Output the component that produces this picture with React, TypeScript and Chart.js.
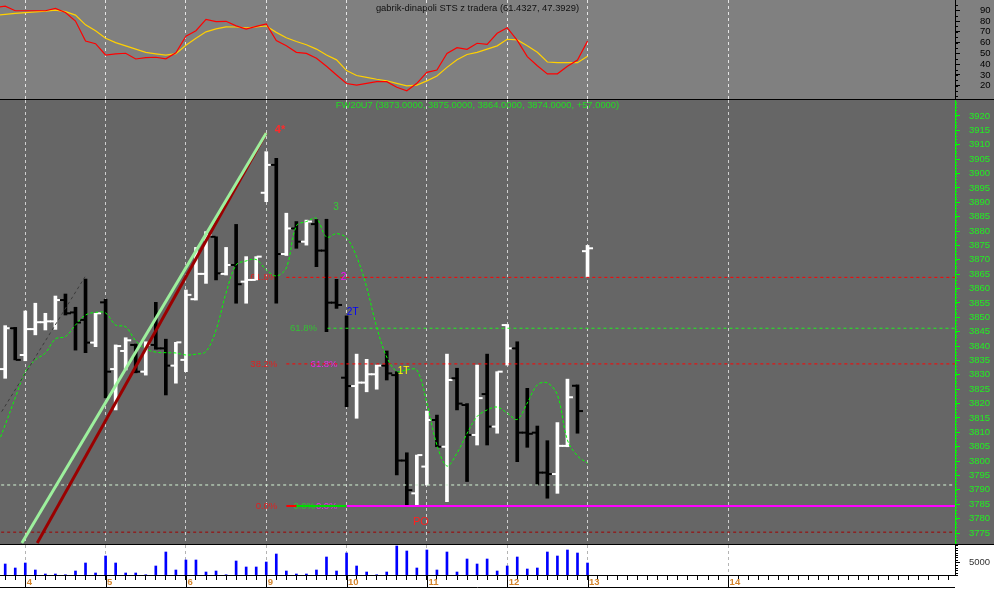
import React, { useEffect, useRef } from 'react';
import { Chart, registerables } from 'chart.js';

Chart.register(...registerables);

const FONT = "'Liberation Sans', Arial, Helvetica, sans-serif";

/* ---------------- data ---------------- */
// bar index of the first hourly bar of each day, and the day label
const DAY_IDX = [2, 10, 18, 26, 34, 42, 50, 58, 72];
const DAY_LABELS = ['4', '5', '6', '9', '10', '11', '12', '13', '14'];

const OPEN = [
  3832.0, 3846.2, 3836.9, 3845.9, 3848.3, 3848.6, 3856.0, 3851.7, 3849.1, 3841.2,
  3855.2, 3832.0, 3838.3, 3840.4, 3831.1, 3840.4, 3839.2, 3833.2, 3835.2, 3856.3,
  3865.1, 3878.0, 3865.1, 3868.2, 3862.4, 3863.0, 3893.3, 3903.0, 3872.0, 3880.9,
  3876.3, 3882.4, 3873.2, 3855.1, 3829.0, 3826.1, 3827.3, 3830.2, 3833.2, 3829.9,
  3800.2, 3788.8, 3798.1, 3814.3, 3805.0, 3828.8, 3819.5, 3809.1, 3823.3, 3812.0,
  3847.3, 3839.2, 3809.9, 3809.9, 3796.0, 3795.5, 3805.3, 3826.2, 3873.0,
];
const HIGH = [
  3847.1, 3846.5, 3852.2, 3854.9, 3851.4, 3857.4, 3858.1, 3853.5, 3863.3, 3851.4,
  3856.3, 3840.4, 3842.9, 3840.7, 3841.5, 3855.2, 3842.4, 3841.3, 3859.5, 3874.3,
  3879.8, 3878.0, 3874.3, 3882.3, 3871.1, 3871.1, 3907.6, 3905.3, 3886.2, 3883.3,
  3883.8, 3884.0, 3884.1, 3863.2, 3850.5, 3837.2, 3835.4, 3833.4, 3838.3, 3831.1,
  3802.9, 3802.1, 3817.4, 3816.0, 3837.2, 3832.3, 3820.0, 3833.4, 3837.2, 3831.1,
  3847.5, 3841.5, 3825.3, 3812.2, 3807.1, 3813.4, 3828.5, 3826.5, 3875.0,
];
const LOW = [
  3828.8, 3835.2, 3834.9, 3843.9, 3845.6, 3845.8, 3850.8, 3838.6, 3837.7, 3839.8,
  3822.0, 3817.8, 3831.7, 3830.7, 3829.9, 3838.9, 3823.0, 3827.1, 3831.1, 3856.0,
  3861.8, 3863.0, 3864.7, 3854.9, 3854.9, 3863.0, 3890.2, 3854.9, 3871.5, 3874.0,
  3875.1, 3867.6, 3845.0, 3853.1, 3818.9, 3814.9, 3824.1, 3825.0, 3828.2, 3795.2,
  3784.4, 3784.7, 3791.7, 3805.0, 3785.9, 3817.8, 3792.9, 3805.6, 3805.6, 3809.7,
  3833.4, 3799.8, 3804.8, 3791.7, 3787.1, 3788.8, 3805.0, 3809.7, 3864.0,
];
const CLOSE = [
  3846.2, 3835.2, 3845.9, 3848.3, 3848.6, 3856.0, 3851.4, 3848.2, 3841.2, 3851.4,
  3831.1, 3840.0, 3842.0, 3831.1, 3840.4, 3839.2, 3833.2, 3841.3, 3857.8, 3865.1,
  3878.6, 3865.3, 3868.2, 3861.5, 3863.0, 3871.1, 3903.0, 3872.0, 3880.9, 3876.3,
  3883.3, 3873.2, 3855.1, 3854.3, 3826.1, 3827.3, 3830.2, 3833.2, 3830.5, 3800.2,
  3789.9, 3802.1, 3814.3, 3805.0, 3828.2, 3820.0, 3809.1, 3821.9, 3812.0, 3831.1,
  3839.2, 3809.9, 3809.5, 3796.0, 3795.5, 3805.3, 3822.2, 3817.4, 3874.0,
];
const VOLUME = [
  4400, 2800, 4800, 2000, 400, 400, 100, 1600, 4800, 800,
  7600, 4800, 800, 800, 100, 3600, 9200, 2000, 6000, 6000,
  1200, 1600, 100, 5600, 3200, 3200, 5200, 8400, 1600, 400,
  400, 2000, 7200, 1600, 8800, 3600, 1200, 100, 1200, 11600,
  9600, 2800, 10000, 2000, 9200, 1200, 6400, 4400, 6400, 1600,
  3600, 7200, 2400, 2800, 9200, 7600, 10000, 8800, 4800,
];

// displaced moving average, first value belongs to bar -1
const MA_FIRST = -1;
const MA = [
  3803.5, 3812.6, 3822.0, 3831.0, 3835.2, 3837.6, 3842.5, 3843.3, 3847.3, 3850.8, 3851.7,
  3851.5, 3847.3, 3846.7, 3841.8, 3839.0, 3837.9, 3837.7, 3837.6, 3836.9, 3837.2,
  3838.1, 3845.6, 3858.5, 3868.2, 3869.6, 3870.1, 3866.5, 3864.4, 3867.2, 3881.8,
  3883.3, 3884.4, 3877.9, 3879.1, 3877.6, 3871.1, 3860.5, 3846.6, 3836.2, 3831.2,
  3831.7, 3831.7, 3820.2, 3805.6, 3798.3, 3802.8, 3809.6, 3815.5, 3817.8, 3818.8,
  3816.7, 3814.5, 3820.2, 3826.5, 3827.2, 3823.0, 3807.3, 3801.8, 3799.3,
];

// STS oscillator, first value belongs to bar -1
const STS_FIRST = -1;
const STS_FAST = [
  92.5, 93.8, 89.6, 89.6, 89.6, 89.6, 91.8, 88.0, 80.0, 61.5, 59.0,
  48.5, 49.6, 50.1, 44.8, 46.0, 46.4, 45.0, 50.6, 66.0, 71.0,
  81.6, 79.5, 79.8, 75.5, 72.6, 75.0, 77.3, 62.0, 57.0, 51.0,
  50.0, 45.5, 38.0, 30.0, 22.0, 20.6, 22.2, 23.7, 23.7, 18.5,
  15.3, 22.2, 32.4, 34.6, 50.0, 55.3, 53.8, 59.4, 58.4, 68.6,
  73.8, 62.0, 47.0, 38.5, 31.0, 31.0, 38.0, 43.9, 61.4,
];
const STS_SLOW = [
  85.5, 86.2, 87.1, 87.8, 88.6, 89.3, 90.2, 88.8, 85.5, 76.5, 71.0,
  64.0, 60.0, 57.0, 54.0, 51.0, 49.6, 48.4, 49.8, 57.5, 64.0,
  70.0, 72.8, 74.6, 74.5, 73.8, 74.5, 75.4, 69.5, 64.5, 61.0,
  58.0, 54.0, 48.5, 44.0, 34.0, 29.5, 27.7, 26.0, 24.6, 22.2,
  19.9, 20.6, 24.5, 29.0, 37.0, 44.0, 49.0, 51.0, 54.0, 57.0,
  63.1, 62.5, 57.0, 51.0, 42.0, 41.4, 41.4, 41.4, 47.4,
];

// axis ticks
const MAIN_Y_TICKS = [
  3775, 3780, 3785, 3790, 3795, 3800, 3805, 3810, 3815, 3820, 3825, 3830, 3835, 3840, 3845,
  3850, 3855, 3860, 3865, 3870, 3875, 3880, 3885, 3890, 3895, 3900, 3905, 3910, 3915, 3920,
];
const STS_Y_TICKS = [20, 30, 40, 50, 60, 70, 80, 90];
const VOL_Y_TICKS = [5000];

// horizontal levels: price and the bar index where each begins
const LEVEL_PRICE = [3863.9, 3846.2, 3833.8, 3784.4, 3784.4, 3784.4, 3791.7, 3775.3];
const LEVEL_FROM = [28, 32.1, 28, 28, 29, 34, -1, -1];

// trend lines (bar index, price)
const TREND_GRAY_X = [-0.35, 7.95];
const TREND_GRAY_Y = [3817.2, 3864.1];
const TREND_RED_X = [3.19, 26];
const TREND_RED_Y = [3771.5, 3914.1];
const TREND_GREEN_X = [1.66, 26];
const TREND_GREEN_Y = [3771.5, 3914.1];

// text marks (bar index, price)
const FIB_TEXT = ['61.8%', '61.8%', '38.2%', '61.8%', '0.0%', '0.0%', '0.0%'];
const FIB_TEXT_X = [27.1, 31.05, 27.1, 33.1, 27.1, 30.86, 33.1];
const FIB_TEXT_Y = [3863.9, 3846.2, 3833.8, 3833.8, 3784.4, 3784.4, 3784.4];
const NOTE_TEXT = ['4*', '3', '2', '2T', '1T', 'PO'];
const NOTE_X = [27.37, 32.95, 33.7, 34.61, 39.67, 41.41];
const NOTE_Y = [3915.1, 3888.1, 3864.1, 3851.9, 3831.2, 3778.7];

const MAIN_TITLE = 'FW20U7 (3873.0000, 3875.0000, 3864.0000, 3874.0000, +57.0000)';
const STS_TITLE = 'gabrik-dinapoli STS z tradera (61.4327, 47.3929)';

/* ---------------- view settings ---------------- */
const W = 994;
const AXIS_W = 39;
const X_MIN = -0.518;
const X_MAX = 94.6;
const MAIN_Y_MIN = 3771.18;
const MAIN_Y_MAX = 3925.56;
const STS_Y_MIN = 7.65;
const STS_Y_MAX = 99.56;
const VOL_MAX = 12000;
const TICK_OFF = 0.3;

const LEVEL_STYLE = [
  { color: '#ff0000', width: 1, dash: [3, 3], order: 7 },
  { color: '#22ee22', width: 1, dash: [3, 3], order: 7 },
  { color: '#ff0000', width: 1, dash: [3, 3], order: 7 },
  { color: '#ff0000', width: 2, dash: [], order: 8 },
  { color: '#00dd00', width: 2, dash: [], order: 7.5 },
  { color: '#ff00ff', width: 2, dash: [], order: 7 },
  { color: '#d4f4d4', width: 1, dash: [3, 3], order: 7 },
  { color: '#a00000', width: 1, dash: [3, 3], order: 7 },
];
const FIB_TEXT_COLOR = ['#e02020', '#33c033', '#e02020', '#ee22ee', '#e02020', '#33c033', '#ee22ee'];
const NOTE_COLOR = ['#ff2a2a', '#33cc33', '#ff00ff', '#0000ff', '#ffff00', '#ff2020'];
const NOTE_FONT = ['bold 11px', '10px', '10px', '10px', '10px', '11px'];

const noInteraction = {
  responsive: false,
  animation: false as const,
  devicePixelRatio: 1,
  events: [] as any[],
  layout: { padding: 0, autoPadding: false },
  plugins: { legend: { display: false }, tooltip: { enabled: false }, title: { display: false } },
};

function dayGridX(color: string) {
  return {
    type: 'linear' as const,
    min: X_MIN,
    max: X_MAX,
    offset: false,
    position: 'bottom' as const,
    afterBuildTicks: (s: any) => {
      s.ticks = DAY_IDX.map((v) => ({ value: v }));
    },
    ticks: { display: false },
    grid: { color, lineWidth: 1, drawTicks: false, offset: false },
    border: { display: false, dash: [3, 3] },
    afterFit: (s: any) => {
      s.height = 0;
      s.paddingLeft = 0;
      s.paddingRight = 0;
    },
  };
}

function rightY(min: number, max: number, ticks: number[], color: string, borderColor: string, padding: number) {
  return {
    type: 'linear' as const,
    position: 'right' as const,
    min,
    max,
    beginAtZero: false,
    afterBuildTicks: (s: any) => {
      s.ticks = ticks.map((v) => ({ value: v }));
    },
    ticks: {
      color,
      padding,
      autoSkip: false,
      font: { family: FONT, size: 9.5 },
      callback: (v: any) => String(v),
    },
    grid: { drawOnChartArea: false, drawTicks: true, tickLength: 5, tickColor: borderColor, tickWidth: 1 },
    border: { display: true, color: borderColor, width: 1 },
    afterFit: (s: any) => {
      s.width = AXIS_W;
      s.paddingTop = 0;
      s.paddingBottom = 0;
    },
  };
}

function minorTicks(id: string, step: number, len: number, color: string) {
  return {
    id,
    afterDraw(chart: any) {
      const s = chart.scales.y;
      const ctx = chart.ctx;
      ctx.save();
      ctx.strokeStyle = color;
      ctx.lineWidth = 1;
      ctx.beginPath();
      for (let v = Math.ceil(s.min / step) * step; v <= s.max; v += step) {
        const y = Math.round(s.getPixelForValue(v)) + 0.5;
        ctx.moveTo(s.left, y);
        ctx.lineTo(s.left + len, y);
      }
      ctx.stroke();
      ctx.restore();
    },
  };
}

function titlePlugin(id: string, text: string, color: string, y: number) {
  return {
    id,
    afterDraw(chart: any) {
      const { ctx, chartArea } = chart;
      ctx.save();
      ctx.font = `9.4px ${FONT}`;
      ctx.fillStyle = color;
      ctx.textAlign = 'center';
      ctx.textBaseline = 'middle';
      ctx.fillText(text, (chartArea.left + chartArea.right) / 2, y);
      ctx.restore();
    },
  };
}

const pts = (xs: number[], ys: number[]) => xs.map((x, k) => ({ x, y: ys[k] }));

export default function App() {
  const topRef = useRef<HTMLCanvasElement>(null);
  const mainRef = useRef<HTMLCanvasElement>(null);
  const volRef = useRef<HTMLCanvasElement>(null);

  useEffect(() => {
    Chart.defaults.font.family = FONT;
    const charts: Chart[] = [];

    /* ---------- STS oscillator ---------- */
    charts.push(
      new Chart(topRef.current as HTMLCanvasElement, {
        type: 'line',
        data: {
          datasets: [
            {
              data: STS_SLOW.map((v, k) => ({ x: k + STS_FIRST, y: v })),
              borderColor: '#ffd000',
              borderWidth: 1.2,
              pointRadius: 0,
              order: 2,
            },
            {
              data: STS_FAST.map((v, k) => ({ x: k + STS_FIRST, y: v })),
              borderColor: '#ff0000',
              borderWidth: 1.2,
              pointRadius: 0,
              order: 1,
            },
          ],
        },
        options: {
          ...noInteraction,
          scales: {
            x: dayGridX('#e4e4e4') as any,
            y: rightY(STS_Y_MIN, STS_Y_MAX, STS_Y_TICKS, '#000000', '#000000', 20) as any,
          },
        } as any,
        plugins: [minorTicks('stsMinor', 5, 3, '#000000'), titlePlugin('stsTitle', STS_TITLE, '#111111', 8)],
      })
    );

    /* ---------- price panel ---------- */
    const barColors = CLOSE.map((c, k) => (c >= (k ? CLOSE[k - 1] : OPEN[k]) ? '#ffffff' : '#000000'));

    const textPlugin = {
      id: 'priceText',
      beforeDatasetsDraw(chart: any) {
        const { ctx, scales } = chart;
        ctx.save();
        ctx.font = `9.5px ${FONT}`;
        ctx.textAlign = 'right';
        ctx.textBaseline = 'middle';
        FIB_TEXT.forEach((t, k) => {
          ctx.fillStyle = FIB_TEXT_COLOR[k];
          ctx.fillText(t, scales.x.getPixelForValue(FIB_TEXT_X[k]), scales.y.getPixelForValue(FIB_TEXT_Y[k]));
        });
        ctx.restore();
      },
      afterDatasetsDraw(chart: any) {
        const { ctx, scales } = chart;
        ctx.save();
        ctx.textAlign = 'center';
        ctx.textBaseline = 'middle';
        NOTE_TEXT.forEach((t, k) => {
          ctx.font = `${NOTE_FONT[k]} ${FONT}`;
          ctx.fillStyle = NOTE_COLOR[k];
          ctx.fillText(t, scales.x.getPixelForValue(NOTE_X[k]), scales.y.getPixelForValue(NOTE_Y[k]));
        });
        ctx.restore();
      },
    };

    const levelSets = LEVEL_PRICE.map((p, k) => ({
      type: 'line',
      data: [
        { x: LEVEL_FROM[k], y: p },
        { x: X_MAX, y: p },
      ],
      borderColor: LEVEL_STYLE[k].color,
      borderWidth: LEVEL_STYLE[k].width,
      borderDash: LEVEL_STYLE[k].dash,
      pointRadius: 0,
      order: LEVEL_STYLE[k].order,
    }));

    charts.push(
      new Chart(mainRef.current as HTMLCanvasElement, {
        type: 'bar',
        data: {
          datasets: [
            {
              type: 'bar',
              data: LOW.map((l, k) => ({ x: k, y: [l, HIGH[k]] })),
              backgroundColor: barColors,
              borderWidth: 0,
              barThickness: 3,
              order: 10,
            },
            {
              type: 'line',
              data: OPEN.map((o, k) => ({ x: k - TICK_OFF, y: o })),
              showLine: false,
              pointStyle: 'line',
              pointRadius: 2.5,
              pointBorderWidth: 2,
              pointBorderColor: barColors,
              order: 9,
            },
            {
              type: 'line',
              data: CLOSE.map((c, k) => ({ x: k + TICK_OFF, y: c })),
              showLine: false,
              pointStyle: 'line',
              pointRadius: 2.5,
              pointBorderWidth: 2,
              pointBorderColor: barColors,
              order: 9,
            },
            ...levelSets,
            {
              type: 'line',
              data: MA.map((v, k) => ({ x: k + MA_FIRST, y: v })),
              borderColor: '#00ff00',
              borderWidth: 1,
              borderDash: [3, 2],
              tension: 0.35,
              pointRadius: 0,
              order: 5,
            },
            {
              type: 'line',
              data: pts(TREND_GRAY_X, TREND_GRAY_Y),
              borderColor: '#3a3a3a',
              borderWidth: 1,
              borderDash: [3, 3],
              pointRadius: 0,
              order: 4,
            },
            {
              type: 'line',
              data: pts(TREND_RED_X, TREND_RED_Y),
              borderColor: '#9a0000',
              borderWidth: 3,
              pointRadius: 0,
              order: 3,
            },
            {
              type: 'line',
              data: pts(TREND_GREEN_X, TREND_GREEN_Y),
              borderColor: '#9df09d',
              borderWidth: 3,
              pointRadius: 0,
              order: 2,
            },
          ] as any,
        },
        options: {
          ...noInteraction,
          scales: {
            x: dayGridX('#cfcfcf') as any,
            y: rightY(MAIN_Y_MIN, MAIN_Y_MAX, MAIN_Y_TICKS, '#22ee22', '#00ff00', 9) as any,
          },
        } as any,
        plugins: [textPlugin, minorTicks('mainMinor', 1, 2, '#00ff00'), titlePlugin('mainTitle', MAIN_TITLE, '#22dd22', 5)],
      })
    );

    /* ---------- volume panel ---------- */
    const barTicks: number[] = [];
    for (let v = 0; v <= Math.floor(X_MAX); v++) barTicks.push(v);

    const volDecor = {
      id: 'volDecor',
      afterDraw(chart: any) {
        const { ctx, chartArea } = chart;
        const sx = chart.scales.x;
        ctx.save();
        ctx.strokeStyle = '#000000';
        ctx.lineWidth = 1;
        ctx.beginPath();
        DAY_IDX.forEach((d) => {
          const px = Math.round(sx.getPixelForValue(d)) + 0.5;
          ctx.moveTo(px, sx.top);
          ctx.lineTo(px, sx.top + 13);
        });
        ctx.moveTo(chartArea.left, sx.top + 12.5);
        ctx.lineTo(chartArea.right, sx.top + 12.5);
        ctx.stroke();
        ctx.restore();
      },
    };

    charts.push(
      new Chart(volRef.current as HTMLCanvasElement, {
        type: 'bar',
        data: {
          datasets: [
            {
              data: VOLUME.map((v, k) => ({ x: k, y: v })),
              backgroundColor: '#0000ff',
              borderWidth: 0,
              barThickness: 2,
            },
          ],
        },
        options: {
          ...noInteraction,
          scales: {
            x: {
              type: 'linear',
              min: X_MIN,
              max: X_MAX,
              offset: false,
              position: 'bottom',
              afterBuildTicks: (s: any) => {
                s.ticks = barTicks.map((v) => ({ value: v }));
              },
              ticks: {
                autoSkip: false,
                maxRotation: 0,
                minRotation: 0,
                align: 'start',
                padding: -3,
                labelOffset: 1.5,
                color: '#d4842c',
                font: { family: FONT, size: 9.5, weight: 'bold' },
                callback: (v: any) => {
                  const k = DAY_IDX.indexOf(v);
                  return k >= 0 ? DAY_LABELS[k] : '';
                },
              },
              grid: {
                color: (c: any) => (c.tick && DAY_IDX.includes(c.tick.value) ? '#b4b4b4' : 'rgba(0,0,0,0)'),
                drawTicks: true,
                tickLength: 5,
                tickColor: '#000000',
                offset: false,
              },
              border: { display: true, color: '#000000', width: 1, dash: [3, 3] },
              afterFit: (s: any) => {
                s.height = 14;
                s.paddingLeft = 0;
                s.paddingRight = 0;
              },
            },
            y: rightY(0, VOL_MAX, VOL_Y_TICKS, '#333333', '#000000', 9) as any,
          },
        } as any,
        plugins: [volDecor, minorTicks('volMinor', 1000, 3, '#000000')],
      })
    );

    return () => charts.forEach((c) => c.destroy());
  }, []);

  return (
    <div style={{ position: 'absolute', left: 0, top: 0, width: W, height: 599, background: '#ffffff', overflow: 'hidden' }}>
      <canvas ref={topRef} width={W} height={99} style={{ position: 'absolute', left: 0, top: 0, background: '#808080' }} />
      <div style={{ position: 'absolute', left: 0, top: 99, width: W, height: 1, background: '#000000' }} />
      <canvas ref={mainRef} width={W} height={444} style={{ position: 'absolute', left: 0, top: 100, background: '#666666' }} />
      <div style={{ position: 'absolute', left: 0, top: 544, width: W, height: 1, background: '#000000' }} />
      <canvas ref={volRef} width={W} height={44} style={{ position: 'absolute', left: 0, top: 545, background: '#ffffff' }} />
    </div>
  );
}
